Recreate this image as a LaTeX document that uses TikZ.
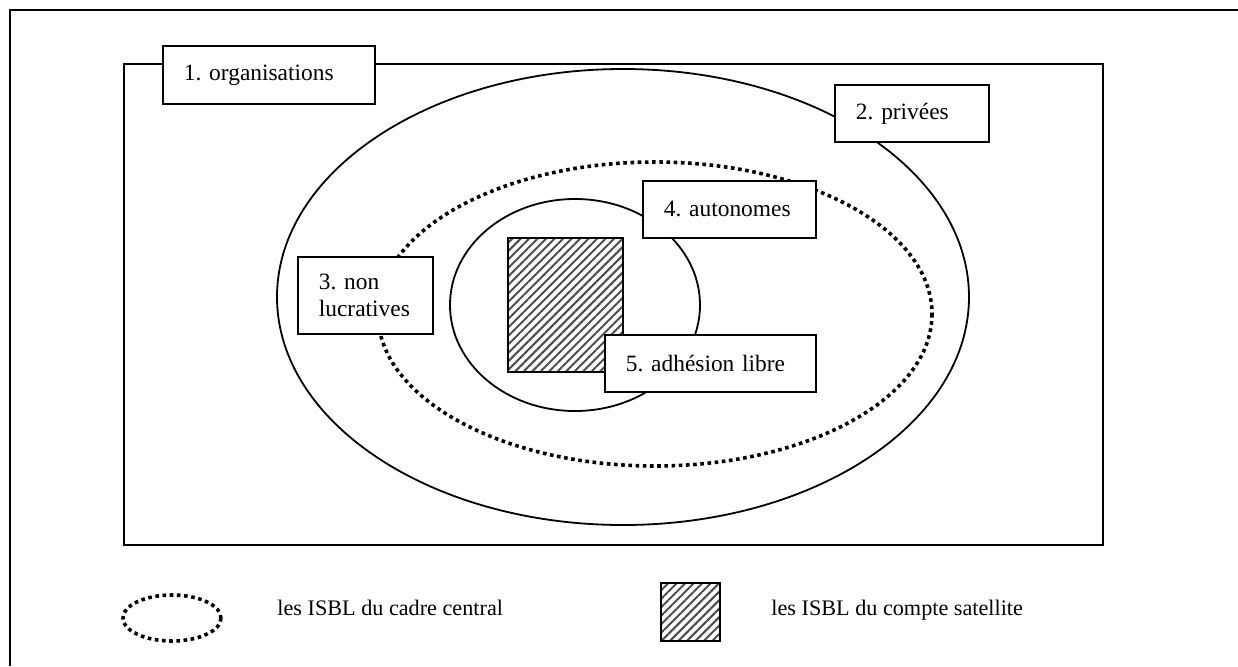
\documentclass[tikz,border=0pt]{standalone}
\usepackage{fontspec}
\setmainfont{Liberation Serif}
\usetikzlibrary{patterns.meta}
\frenchspacing
\hyphenpenalty=10000

\tikzset{
  labelbox/.style={draw, fill=white, line width=0.9pt, anchor=north west,
    inner xsep=10.5pt, inner ysep=0pt, align=left},
  legendtext/.style={anchor=base west, inner sep=0pt, font=\fontsize{11.1}{13}\selectfont},
  ring/.style={line width=0.9pt},
  dotring/.style={line width=1.8pt, dash pattern=on 1.8pt off 1.8pt},
  hatch/.style={draw, line width=0.9pt,
    pattern={Lines[angle=45, distance=3pt, line width=1pt]},
    pattern color=black!70}
}

\begin{document}
\begin{tikzpicture}[x=0.5pt, y=-0.5pt, font=\fontsize{11.7}{13.5}\selectfont]
    \useasboundingbox (0,0) rectangle (1238,666);

    % Page frame (top and left edges only)
    \draw[line width=0.9pt] (1238,10) -- (10,10) -- (10,666);

    % Outer frame for all organisations
    \draw[line width=0.9pt] (124,64) rectangle (1103,545);

    % Nested sets
    \draw[ring] (623,297) ellipse [x radius=346, y radius=228];
    \draw[dotring] (655,314) ellipse [x radius=277, y radius=152];
    \draw[ring] (575,305) ellipse [x radius=125, y radius=106];
    \draw[hatch] (508,238) rectangle (623,372);

    % Labels of the sets
    \node[labelbox, minimum width=106pt, minimum height=29pt, text width=85pt]
      (org) at (162,45) {1. organisations};
    \node[labelbox, minimum width=77pt, minimum height=28.5pt, text width=56pt]
      (priv) at (834,84) {2. privées};
    \node[labelbox, minimum width=67.5pt, minimum height=38.5pt, text width=46.5pt]
      (nonlucr) at (297,256) {3. non\\lucratives};
    \node[labelbox, minimum width=86.5pt, minimum height=28.5pt, text width=65.5pt]
      (auton) at (642,180) {4. autonomes};
    \node[labelbox, minimum width=105.5pt, minimum height=28.5pt, text width=84.5pt]
      (adhes) at (604,334) {5. adhésion libre};

    % Legend
    \draw[dotring] (172,618) ellipse [x radius=49, y radius=23];
    \node[legendtext] (leg1) at (277,615) {les ISBL du cadre central};
    \draw[hatch] (661,583) rectangle (720,641);
    \node[legendtext] (leg2) at (771,615) {les ISBL du compte satellite};
\end{tikzpicture}
\end{document}
